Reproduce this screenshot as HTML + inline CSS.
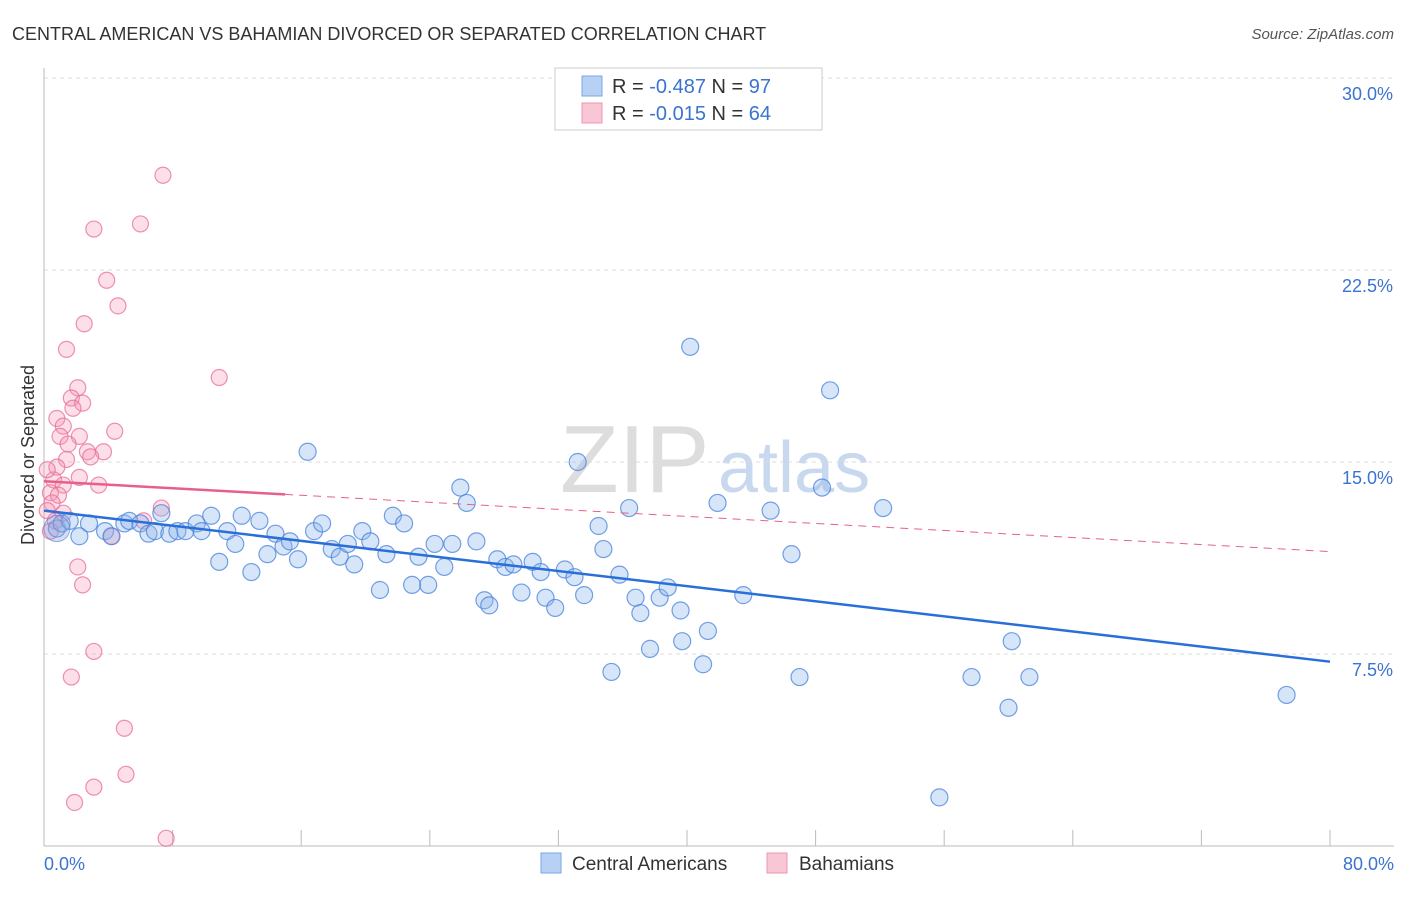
<!DOCTYPE html>
<html><head><meta charset="utf-8"><style>
body{margin:0;background:#fff;font-family:"Liberation Sans",sans-serif}
svg text{font-family:"Liberation Sans",sans-serif}
</style></head><body>
<svg id="chart" width="1406" height="892">
<text x="12" y="40" font-size="18" fill="#333">CENTRAL AMERICAN VS BAHAMIAN DIVORCED OR SEPARATED CORRELATION CHART</text>
<text x="1394" y="39" font-size="15" fill="#555" text-anchor="end" font-style="italic">Source: ZipAtlas.com</text>
<text x="34" y="455" font-size="18" fill="#333" text-anchor="middle" transform="rotate(-90 34 455)">Divorced or Separated</text>
<text x="560" y="492" font-size="96" fill="#ddd" font-family="Liberation Serif">ZIP</text>
<text x="718" y="492" font-size="72" fill="#c8d8ee">atlas</text>
<g id="grid"></g><g id="axes"></g><g id="pts"></g><g id="trend"></g>
<g>
<rect x="555" y="68" width="267" height="62" fill="#fff" stroke="#ccc"/>
<rect x="582" y="76" width="20" height="20" fill="#b8d0f4" stroke="#7aa6e6"/>
<rect x="582" y="103" width="20" height="20" fill="#f9c6d6" stroke="#ee96b2"/>
<text x="612" y="93" font-size="20" fill="#333">R = <tspan fill="#3b73d1">-0.487</tspan>   N = <tspan fill="#3b73d1">97</tspan></text>
<text x="612" y="120" font-size="20" fill="#333">R = <tspan fill="#3b73d1">-0.015</tspan>   N = <tspan fill="#3b73d1">64</tspan></text>
</g>
<g>
<rect x="541" y="853" width="20" height="20" fill="#b8d0f4" stroke="#7aa6e6"/>
<text x="572" y="870" font-size="19" fill="#333">Central Americans</text>
<rect x="767" y="853" width="20" height="20" fill="#f9c6d6" stroke="#ee96b2"/>
<text x="799" y="870" font-size="19" fill="#333">Bahamians</text>
</g>
</svg>
<script>
const yTicks=[7.5,15,22.5,30];
const yTickLabels=["7.5%","15.0%","22.5%","30.0%"];
const xTickLabels=["0.0%","80.0%"];
const centralX=[0.8,1.1,2.2,1.6,2.8,3.8,4.2,5.0,5.3,6.0,6.5,6.9,7.3,7.8,8.3,8.8,9.5,9.8,10.4,10.9,11.4,11.9,12.3,12.9,13.4,13.9,14.4,14.9,15.3,15.8,16.4,16.8,17.3,17.9,18.4,18.9,19.3,19.8,20.3,20.9,21.3,21.7,22.4,22.9,23.3,23.9,24.3,24.9,25.4,25.9,26.3,26.9,27.4,27.7,28.2,28.7,29.2,29.7,30.4,30.9,31.2,31.8,32.4,33.0,33.2,33.6,34.5,34.8,35.3,35.8,36.4,36.8,37.1,37.7,38.3,38.8,39.6,39.7,40.2,41.0,41.3,41.9,43.5,45.2,46.5,47.0,48.4,48.9,52.2,55.7,57.7,60.0,60.2,61.3,77.3];
const centralY=[12.4,12.6,12.1,12.7,12.6,12.3,12.1,12.6,12.7,12.6,12.2,12.3,13.0,12.2,12.3,12.3,12.6,12.3,12.9,11.1,12.3,11.8,12.9,10.7,12.7,11.4,12.2,11.7,11.9,11.2,15.4,12.3,12.6,11.6,11.3,11.8,11.0,12.3,11.9,10.0,11.4,12.9,12.6,10.2,11.3,10.2,11.8,10.9,11.8,14.0,13.4,11.9,9.6,9.4,11.2,10.9,11.0,9.9,11.1,10.7,9.7,9.3,10.8,10.5,15.0,9.8,12.5,11.6,6.8,10.6,13.2,9.7,9.1,7.7,9.7,10.1,9.2,8.0,19.5,7.1,8.4,13.4,9.8,13.1,11.4,6.6,14.0,17.8,13.2,1.9,6.6,5.4,8.0,6.6,5.9];
const bahX=[7.4,6.0,3.1,3.9,4.6,2.5,1.4,10.9,2.1,1.7,2.4,1.8,4.4,0.8,1.2,1.0,2.2,1.5,2.7,3.7,2.9,1.4,0.8,2.2,3.4,0.6,1.2,0.4,0.9,0.5,0.2,7.3,1.2,0.7,6.2,4.2,2.1,2.4,3.1,1.7,5.0,5.1,3.1,1.9,7.6,0.4,0.2];
const bahY=[26.2,24.3,24.1,22.1,21.1,20.4,19.4,18.3,17.9,17.5,17.3,17.1,16.2,16.7,16.4,16.0,16.0,15.7,15.4,15.4,15.2,15.1,14.8,14.4,14.1,14.3,14.1,13.8,13.7,13.4,13.1,13.2,13.0,12.7,12.7,12.1,10.9,10.2,7.6,6.6,4.6,2.8,2.3,1.7,0.3,12.3,14.7];
const centralTrend=[13.1,7.2];
const bahTrend=[14.25,11.5];
const ns="http://www.w3.org/2000/svg";
const X=v=>44+v/80*1286, Y=v=>846-v/30*768;
function mk(t,a,p){const e=document.createElementNS(ns,t);for(const k in a)e.setAttribute(k,a[k]);document.getElementById(p).appendChild(e);return e;}
yTicks.forEach((t,i)=>{
 const g=mk('line',{x1:44,x2:1394,y1:Y(t),y2:Y(t),stroke:'#ddd','stroke-dasharray':'4,4'},'grid');
 
 
 const l=mk('text',{x:1393,y:Y(t)+22,'font-size':18,fill:'#3b73d1','text-anchor':'end'},'axes');l.textContent=yTickLabels[i];
 
 
});
const ax=mk('line',{x1:44,x2:1394,y1:846,y2:846,stroke:'#bbb'},'axes');


const ay=mk('line',{x1:44,x2:44,y1:68,y2:846,stroke:'#bbb'},'axes');


for(let i=1;i<=10;i++){const t=mk('line',{x1:X(i*8),x2:X(i*8),y1:830,y2:846,stroke:'#bbb'},'axes');
 
 }
[[0,'start',44],[80,'end',1394]].forEach((a,i)=>{const l=mk('text',{x:a[2],y:870,'font-size':18,fill:'#3b73d1','text-anchor':a[1]},'axes');l.textContent=xTickLabels[i];
 
 });
bahX.forEach((x,i)=>{const c=mk('circle',{cx:X(x),cy:Y(bahY[i]),r:8,fill:'rgba(244,150,180,0.3)',stroke:'rgba(232,110,150,0.75)','stroke-width':1.2},'pts');
 
 });
centralX.forEach((x,i)=>{const c=mk('circle',{cx:X(x),cy:Y(centralY[i]),r:8.5,fill:'rgba(140,180,236,0.35)',stroke:'rgba(70,130,220,0.75)','stroke-width':1.2},'pts');
 
 });
const big=mk('circle',{cx:X(0.8),cy:Y(12.4),r:13,fill:'rgba(140,160,220,0.35)',stroke:'rgba(70,130,220,0.6)'},'pts');


const bt=v=>bahTrend[0]+(bahTrend[1]-bahTrend[0])*v/80;
const p1=mk('line',{x1:X(0),y1:Y(bt(0)),x2:X(15),y2:Y(bt(15)),stroke:'#e8608a','stroke-width':2.5},'trend');


const p2=mk('line',{x1:X(15),y1:Y(bt(15)),x2:X(80),y2:Y(bt(80)),stroke:'#e8608a','stroke-width':1,'stroke-dasharray':'8,6'},'trend');


const b1=mk('line',{x1:X(0),y1:Y(centralTrend[0]),x2:X(80),y2:Y(centralTrend[1]),stroke:'#2a6fd8','stroke-width':2.5},'trend');


</script>
</body></html>
